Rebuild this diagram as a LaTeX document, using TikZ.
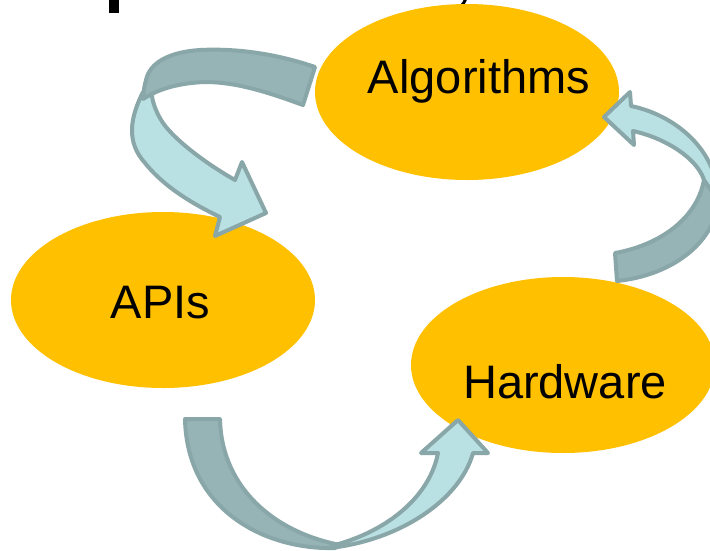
\documentclass[tikz,border=0pt]{standalone}
\usepackage{fontspec}
\setmainfont{Liberation Sans}
\usetikzlibrary{shapes.geometric}
\definecolor{gold}{HTML}{FFC000}
\definecolor{darkband}{RGB}{150,179,181}
\definecolor{lightband}{RGB}{185,224,227}
\definecolor{bandline}{RGB}{137,166,168}
\tikzset{
  blob/.style={ellipse, fill=gold, draw=none, minimum width=304pt, minimum height=176pt, inner sep=0pt},
  lbl/.style={anchor=base, inner sep=0pt, font=\fontsize{47}{50}\selectfont, text=black},
  backband/.style={fill=darkband, draw=bandline, line width=4pt, line join=round},
  frontband/.style={fill=lightband, draw=bandline, line width=4pt, line join=round}
}
\begin{document}
\begin{tikzpicture}[x=1pt,y=-1pt]
\useasboundingbox (0,0) rectangle (710,550);
\clip (0,0) rectangle (710,550);
\fill[white] (0,0) rectangle (710,550);
% cut-off title fragments
\fill[black] (109,-2) rectangle (119,13);
\draw[black, line width=3pt] (466,-2) .. controls (464,3) .. (459,8);
% ellipses
\node[blob] (alg) at (467,92) {};
\node[blob] (api) at (163,300) {};
\node[blob] (hw) at (563,365) {};
\node[lbl] (algt) at (479,93) {Algorithms};
\node[lbl] (apit) at (160.5,318) {APIs};
\node[lbl] (hwt) at (565,398) {Hardware};
% arrow Algorithms -> APIs
\draw[frontband] (143,92) .. controls (130,118) and (126,142) .. (145,163)
  .. controls (165,188) and (195,205) .. (220,217) -- (215,236) -- (266,213) -- (242,162) -- (235,180)
  .. controls (205,163) and (175,140) .. (163,123) .. controls (157,114) and (153,104) .. (152,96) -- cycle;
\draw[backband] (315,67) .. controls (280,55) and (240,48) .. (200,50)
  .. controls (170,52) and (150,62) .. (146,80) .. controls (144,88) .. (143,99)
  .. controls (155,91) and (175,83) .. (205,82) .. controls (240,82) and (275,95) .. (303,105) -- cycle;
% arrow APIs -> Hardware
\draw[backband] (185,419) -- (220,419) .. controls (221,480) and (265,530) .. (340,545)
  -- (335,548) .. controls (265,550) and (187,510) .. (185,419) -- cycle;
\draw[frontband] (330,548) .. controls (400,540) and (460,500) .. (473,453) -- (488,453) -- (458,420)
  -- (421,453) -- (438,453) .. controls (430,495) and (390,530) .. (335,545) -- cycle;
% arrow Hardware -> Algorithms
\draw[backband] (615,253) .. controls (655,246) and (696,222) .. (704,180) -- (718,200)
  .. controls (716,240) and (675,275) .. (617,281) -- cycle;
\draw[frontband] (718,200) .. controls (718,150) and (675,115) .. (631,106) -- (630,92) -- (604,117)
  -- (634,145) -- (633,131) .. controls (665,138) and (697,158) .. (704,180) -- cycle;
\end{tikzpicture}
\end{document}
